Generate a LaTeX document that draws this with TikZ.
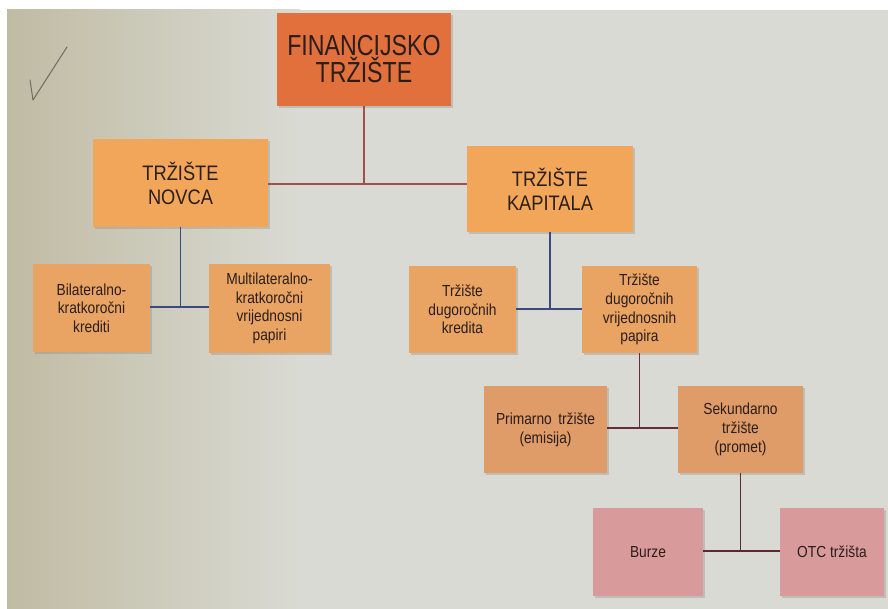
\documentclass[tikz,border=0pt]{standalone}
\usepackage{fontspec}
\setmainfont{Liberation Sans}
\newfontfamily\narrowtop[FakeStretch=0.8]{Liberation Sans}
\newfontfamily\narrowmid[FakeStretch=0.87]{Liberation Sans}
\newfontfamily\narrowsmall[FakeStretch=0.86]{Liberation Sans}
\usetikzlibrary{shadows}
\definecolor{pagebase}{HTML}{D9DAD3}
\definecolor{pageleft}{HTML}{C0BBA3}
\definecolor{ftcol}{HTML}{E2703D}
\definecolor{lvtwo}{HTML}{F2A65A}
\definecolor{lvthree}{HTML}{E9A362}
\definecolor{lvfour}{HTML}{DF9B68}
\definecolor{lvfive}{HTML}{D99A9B}
\definecolor{txtcol}{HTML}{2A1E1A}
\definecolor{linered}{HTML}{A0504A}
\definecolor{lineblue}{HTML}{3A4A80}
\definecolor{linepurple}{HTML}{6A2A40}
\definecolor{linebrown}{HTML}{5A2A30}
\definecolor{pencil}{HTML}{6E6C5E}
\tikzset{
  boxbase/.style={rectangle, inner sep=2pt, align=center, text=txtcol,
    drop shadow={opacity=0.3, shadow xshift=1.5pt, shadow yshift=-2pt}},
  topbox/.style={boxbase, fill=ftcol, minimum width=174pt, minimum height=93pt,
    font=\narrowtop\fontsize{29}{27}\selectfont},
  midbox/.style={boxbase, fill=lvtwo, font=\narrowmid\fontsize{21}{24}\selectfont},
  smallbox/.style={boxbase, fill=lvthree, font=\narrowsmall\fontsize{16}{18.7}\selectfont},
  pribox/.style={boxbase, fill=lvfour, font=\narrowsmall\fontsize{16}{18.7}\selectfont},
  pinkbox/.style={boxbase, fill=lvfive, font=\narrowsmall\fontsize{16}{18.7}\selectfont},
  conn/.style={line width=1.8pt}
}
\begin{document}
\begin{tikzpicture}[x=1pt,y=-1pt]
\fill[white] (0,0) rectangle (888,609);
\useasboundingbox (0,0) rectangle (888,609);
\fill[pagebase] (7,10) rectangle (888,609);
\shade[left color=pageleft, right color=pagebase] (7,10) rectangle (300,609);
% checkmark
\draw[pencil, line width=1pt, line cap=round, line join=round] (30,80) -- (33,100) -- (67,47);

\node[topbox] (ft) at (364,59.5) {FINANCIJSKO\\TRŽIŠTE};
\node[midbox, minimum width=175pt, minimum height=88pt] (novca) at (180.5,183) {TRŽIŠTE\\NOVCA};
\node[midbox, minimum width=166pt, minimum height=86pt] (kap) at (550,189) {TRŽIŠTE\\KAPITALA};
\node[smallbox, minimum width=117pt, minimum height=88pt] (bil) at (91.5,308) {Bilateralno-\\kratkoročni\\krediti};
\node[smallbox, minimum width=121pt, minimum height=89pt] (mult) at (269.5,308.5) {Multilateralno-\\kratkoročni\\vrijednosni\\papiri};
\node[smallbox, minimum width=107pt, minimum height=87pt] (kred) at (462.5,309.5) {Tržište\\dugoročnih\\kredita};
\node[smallbox, minimum width=115pt, minimum height=87pt] (pap) at (639.5,309.5) {Tržište\\dugoročnih\\vrijednosnih\\papira};
\node[pribox, minimum width=123pt, minimum height=87pt] (prim) at (545.5,429.5) {Primarno\, tržište\\(emisija)};
\node[pribox, minimum width=125pt, minimum height=87pt] (sek) at (740.5,429.5) {Sekundarno\\tržište\\(promet)};
\node[pinkbox, minimum width=110pt, minimum height=88pt] (burze) at (648,552) {Burze};
\node[pinkbox, minimum width=104pt, minimum height=88pt] (otc) at (832,552) {OTC tržišta};

% junctions
\coordinate (j1) at (ft.south |- 0,184);
\coordinate (j2) at (novca.south |- 0,307);
\coordinate (j3) at (kap.south |- 0,309);
\coordinate (j4) at (pap.south |- 0,428);
\coordinate (j5) at (sek.south |- 0,551);

\draw[conn, linered] (ft.south) -- (j1);
\draw[conn, linered] (novca.east |- j1) -- (kap.west |- j1);
\draw[conn, lineblue] (novca.south) -- (j2);
\draw[conn, lineblue] (bil.east |- j2) -- (mult.west |- j2);
\draw[conn, lineblue] (kap.south) -- (j3);
\draw[conn, lineblue] (kred.east |- j3) -- (pap.west |- j3);
\draw[conn, linepurple] (pap.south) -- (j4);
\draw[conn, linepurple] (prim.east |- j4) -- (sek.west |- j4);
\draw[conn, linebrown] (sek.south) -- (j5);
\draw[conn, linebrown] (burze.east |- j5) -- (otc.west |- j5);
\end{tikzpicture}
\end{document}
